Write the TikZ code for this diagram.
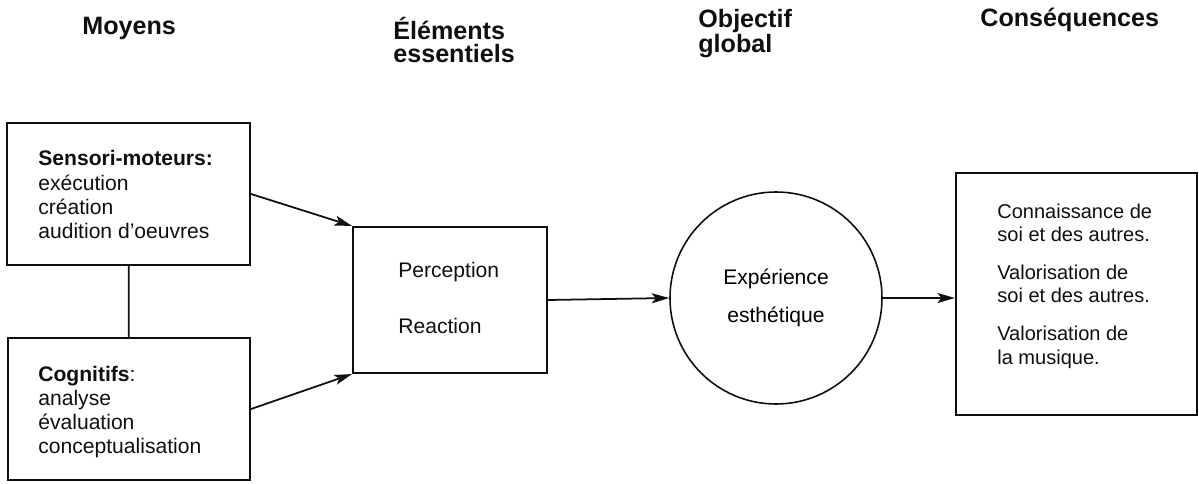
\documentclass[tikz,border=0pt]{standalone}
\usepackage{fontspec}
\setmainfont{Liberation Sans}
\usetikzlibrary{arrows.meta, positioning}
\usepackage{xcolor}
\definecolor{inkdark}{RGB}{15, 15, 15}

\begin{document}
\begin{tikzpicture}[
    box/.style={rectangle, draw=inkdark, line width=1.2pt, inner sep=0pt},
    txt/.style={font=\fontsize{12}{13.7}\selectfont, align=left, color=inkdark, inner sep=0pt},
    header/.style={font=\fontsize{14.3}{13.2}\selectfont\bfseries, align=left, color=inkdark, inner sep=0pt},
    arrow/.style={-{Stealth[length=3.5mm, width=2mm, inset=0.8mm]}, line width=1pt, color=inkdark},
]
\useasboundingbox (0, 0) rectangle (23.98, 9.66);

% Column headers
\node[header, anchor=west] (hmoyens) at (1.64, 9.1) {Moyens};
\node[header, anchor=west] (helements) at (7.86, 8.86) {Éléments\\essentiels};
\node[header, anchor=west] (hobjectif) at (13.96, 8.99) {Objectif\\global};
\node[header, anchor=west] (hconseq) at (19.6, 9.26) {Conséquences};

% Means
\node[box, minimum width=4.86cm, minimum height=2.84cm] (sensori) at (2.57, 5.78) {};
\node[txt, anchor=west] (sensoritxt) at (0.76, 5.77) {\textbf{Sensori-moteurs:}\\exécution\\création\\audition d'oeuvres};
\node[box, minimum width=4.84cm, minimum height=2.84cm] (cognitifs) at (2.58, 1.48) {};
\node[txt, anchor=west] (cognitifstxt) at (0.76, 1.42) {\textbf{Cognitifs}:\\analyse\\évaluation\\conceptualisation};

% Essential elements
\node[box, minimum width=3.88cm, minimum height=2.92cm] (elements) at (9.0, 3.66) {};
\node[txt, anchor=west] (elementstxt) at (7.96, 3.7) {Perception\\[0.64cm]Reaction};

% Global aim
\node[circle, draw=inkdark, line width=0.9pt, minimum size=4.24cm, inner sep=0pt,
      font=\fontsize{12}{13.7}\selectfont, align=center] (experience) at (15.52, 3.7) {Expérience\\[0.28cm]esthétique};

% Consequences
\node[box, minimum width=4.82cm, minimum height=4.84cm] (conseq) at (21.53, 3.78) {};
\node[txt, font=\fontsize{11.4}{13.2}\selectfont, anchor=west] (conseqtxt) at (19.94, 3.94) {Connaissance de\\soi et des autres.\\[0.3cm]Valorisation de\\soi et des autres.\\[0.3cm]Valorisation de\\la musique.};

% Connections
\draw[line width=1pt, color=inkdark] (sensori) -- (cognitifs);
\draw[arrow] (sensori.east) -- (elements.north west);
\draw[arrow] (cognitifs.east) -- (elements.south west);
\draw[arrow] (elements.east) -- (experience.west);
\draw[arrow] (experience.east) -- (experience.east -| conseq.west);

\end{tikzpicture}
\end{document}
